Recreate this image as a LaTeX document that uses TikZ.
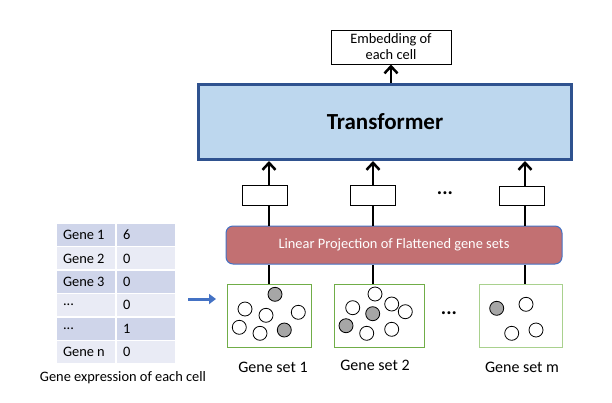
\documentclass[tikz,border=0pt]{standalone}
\usepackage{fontspec}
\setmainfont{Carlito}
\usetikzlibrary{arrows.meta,calc}
\definecolor{trfill}{HTML}{BDD7EE}
\definecolor{trborder}{HTML}{2F528F}
\definecolor{lpfill}{HTML}{C27072}
\definecolor{lpborder}{HTML}{4472C4}
\definecolor{gsgreen}{HTML}{70AD47}
\definecolor{gslight}{HTML}{A9D18E}
\definecolor{rowdark}{HTML}{CFD5EA}
\definecolor{rowlight}{HTML}{E9EBF5}
\definecolor{gcirc}{HTML}{A6A6A6}
\definecolor{barrow}{HTML}{4472C4}
\newcommand{\tripledot}{...}
\tikzset{
  txt/.style={font=\fontsize{14.4}{16}\selectfont},
  labtxt/.style={font=\fontsize{16}{18}\selectfont},
  plainbox/.style={draw=black, line width=1pt, fill=white, inner sep=0pt},
  setbox/.style={draw=gsgreen, line width=1pt, fill=white, inner sep=0pt, minimum height=63pt},
  conn/.style={line width=2.8pt, draw=black},
  uparrow/.style={conn, -{Straight Barb[length=7pt,width=13pt,line width=2.5pt]}},
  cellD/.style={fill=rowdark, inner sep=0pt, minimum width=58pt, minimum height=22pt},
  cellL/.style={fill=rowlight, inner sep=0pt, minimum width=58pt, minimum height=22pt},
  celltext/.style={txt, anchor=west, inner sep=0pt},
  gene/.style={circle, draw=black, line width=0.8pt, fill=white, minimum size=14pt, inner sep=0pt},
  geneg/.style={gene, fill=gcirc},
  dots/.style={font=\fontsize{20}{22}\selectfont\bfseries},
}
\begin{document}
\begin{tikzpicture}[x=1pt,y=-1pt]
\useasboundingbox (0,0) rectangle (612,402);

% Embedding
\node[plainbox, txt, minimum width=120pt, minimum height=34pt, align=center] (emb) at (391,47) {Embedding of\\each cell};

% Transformer
\node[draw=trborder, line width=3pt, fill=trfill, minimum width=373pt, minimum height=75pt, inner sep=0pt,
  font=\fontsize{23}{26}\selectfont\bfseries] (tr) at (385,122) {Transformer};

% small boxes
\node[plainbox, minimum width=45pt, minimum height=20pt] (b1) at (264.5,195) {};
\node[plainbox, minimum width=45pt, minimum height=20pt] (b2) at (373,195) {};
\node[plainbox, minimum width=45pt, minimum height=19pt] (b3) at (521.5,195.5) {};
\node[dots] (d1) at (445,193) {\tripledot};

% Linear projection
\node[draw=lpborder, line width=1pt, fill=lpfill, rounded corners=7pt, minimum width=336pt, minimum height=38pt,
  inner sep=0pt, txt, text=white] (lp) at (394,245) {Linear Projection of Flattened gene sets};

% Gene set boxes
\node[setbox, minimum width=84pt] (g1) at (269,315.5) {};
\node[setbox, minimum width=90pt] (g2) at (379,315.5) {};
\node[setbox, draw=gslight, minimum width=83pt] (g3) at (520.5,315.5) {};
\node[dots] (d2) at (449,313) {\tripledot};

\node[labtxt] (l1) at (273,367) {Gene set 1};
\node[labtxt] (l2) at (375,365) {Gene set 2};
\node[labtxt] (l3) at (522,367) {Gene set m};

% column coordinates
\coordinate (c1) at (269,0);
\coordinate (c2) at (373,0);
\coordinate (c3) at (525,0);

\foreach \c/\b/\g in {c1/b1/g1, c2/b2/g2, c3/b3/g3}{
  \draw[conn] (\g.north -| \c) -- (lp.south -| \c);
  \draw[conn] (lp.north -| \c) -- (\b.south -| \c);
  \draw[uparrow] (\b.north -| \c) -- (tr.south -| \c);
}
\draw[uparrow] (tr.north -| emb.south) -- (emb.south);

% circles in gene set 1
\node[geneg] at (275,294.3) {};
\node[gene] at (245,309) {};
\node[gene] at (266,315.3) {};
\node[gene] at (298.3,312.3) {};
\node[gene] at (239.3,327.3) {};
\node[gene] at (260,333.3) {};
\node[geneg] at (284.3,330) {};
% gene set 2
\node[gene] at (375,294) {};
\node[gene] at (352.7,307.7) {};
\node[gene] at (391.7,304) {};
\node[geneg] at (372.7,313.7) {};
\node[gene] at (405.3,311.7) {};
\node[geneg] at (346,325.7) {};
\node[gene] at (366.7,333.3) {};
\node[gene] at (391.7,329.3) {};
% gene set m
\node[geneg] at (496.7,308.3) {};
\node[gene] at (526,304.3) {};
\node[gene] at (511.7,333.3) {};
\node[gene] at (536,330) {};

% table
\foreach \i/\a/\b/\st in {0/Gene 1/6/cellD, 1/Gene 2/0/cellL, 2/Gene 3/0/cellD, 3/\tripledot/0/cellL, 4/\tripledot/1/cellD, 5/Gene n/0/cellL}{
  \node[\st] (ta\i) at (86,235+23.4*\i) {};
  \node[\st] (tb\i) at (146,235+23.4*\i) {};
  \node[celltext] at ($(ta\i.west)+(6,0)$) {\a};
  \node[celltext] at ($(tb\i.west)+(6,0)$) {\b};
}
\node[txt] (cap) at (123,378) {Gene expression of each cell};

% blue arrow
\coordinate (ba1) at (188,299);
\coordinate (ba2) at (216,299);
\draw[draw=barrow, line width=3pt, -{Triangle[length=7pt,width=10pt]}] (ba1) -- (ba2);
\end{tikzpicture}
\end{document}
